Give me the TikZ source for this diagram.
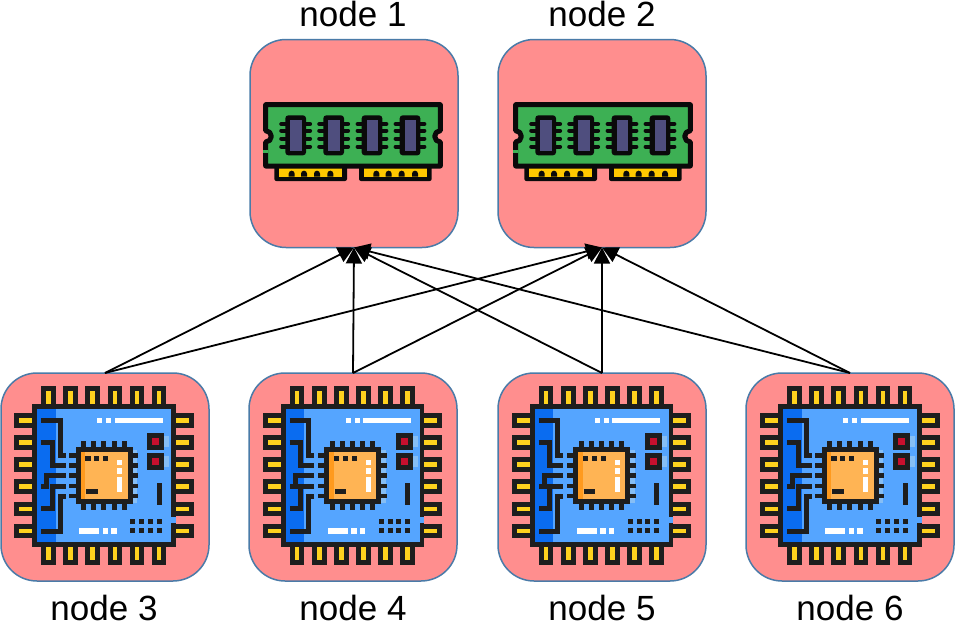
\documentclass[tikz,border=0pt]{standalone}
\usepackage{fontspec}
\setmainfont{Liberation Sans}
\usetikzlibrary{arrows.meta}
\definecolor{boxfill}{HTML}{FF8E8E}
\definecolor{boxline}{HTML}{4A7BA8}
\definecolor{ink}{HTML}{1E1E1E}
\definecolor{ramink}{HTML}{0A0A0A}
\definecolor{ramgreen}{HTML}{3DB054}
\definecolor{ramchip}{HTML}{4F4E7E}
\definecolor{gold}{HTML}{FFC800}
\definecolor{pinyellow}{HTML}{FFD21E}
\definecolor{boardblue}{HTML}{55A5FF}
\definecolor{boarddark}{HTML}{0A6CF0}
\definecolor{coreorange}{HTML}{FFB454}
\definecolor{coredark}{HTML}{FF9A1E}
\definecolor{ledred}{HTML}{C8102E}
\definecolor{glowblue}{HTML}{86BEF5}
\newcommand{\bx}[5]{\fill[#1] (#2,#3) rectangle (#4,#5);}
\tikzset{
  x=1pt,y=-1pt,
  unit/.style={draw=boxline,line width=1.5pt,fill=boxfill,rounded corners=36pt,minimum width=208pt,minimum height=208pt,inner sep=0pt,outer sep=0pt},
  caption/.style={font=\fontsize{35pt}{37pt}\selectfont,anchor=base,inner sep=0pt,text=black},
  link/.style={draw=black,line width=1.8pt,-{Triangle[length=16pt,width=16pt]},shorten >=0pt},
  trace/.style={draw=ink,line width=5pt,miter limit=10},
  ramicon/.pic={
    \begin{scope}[scale=1/3]
      \foreach \ox in {73,327}{
        \fill[ramink,rounded corners=2pt] (\ox,250) rectangle (\ox+218,303);
        \fill[gold] (\ox+14,260) rectangle (\ox+204,290);
      }
      \foreach \bxx in {125,162,201,241,379,416,455,495}
        \fill[ramink] (\bxx-9,290) -- (\bxx-9,281) arc[start angle=180,end angle=360,radius=9] -- (\bxx+9,290) -- cycle;
      \draw[draw=ramink,fill=ramgreen,line width=5pt,line join=round]
        (47,74) -- (571,74) -- (571,152) arc[start angle=270,end angle=90,radius=17]
        -- (571,258) -- (47,258) -- (47,186) arc[start angle=90,end angle=-90,radius=17] -- cycle;
      \bx{ramgreen}{39}{209}{55}{219}
      \foreach \ox in {106,220,335,449}{
        \foreach \py in {132,152,176,200}{
          \draw[ramink,line width=4.2pt,line cap=round] (\ox-12,\py) -- (\ox+74,\py);
        }
        \fill[ramink,rounded corners=3pt] (\ox,106) rectangle (\ox+62,226);
        \fill[ramchip] (\ox+15,120) rectangle (\ox+49,212);
      }
    \end{scope}
  },
  chipicon/.pic={
    \begin{scope}[scale=1/3]
      \foreach \p in {123,190,256,323,389,455}{
        \bx{ink}{\p}{48}{\p+44}{102}
        \bx{pinyellow}{\p+15}{63}{\p+29}{102}
        \bx{ink}{\p}{531}{\p+44}{585}
        \bx{pinyellow}{\p+15}{531}{\p+29}{570}
      }
      \foreach \p in {130,196,262,328,395,461}{
        \bx{ink}{42}{\p}{96}{\p+44}
        \bx{pinyellow}{57}{\p+15}{96}{\p+29}
        \bx{ink}{527}{\p}{581}{\p+44}
        \bx{pinyellow}{527}{\p+15}{566}{\p+29}
      }
      \bx{ink}{96}{102}{527}{531}
      \bx{boardblue}{111}{117}{513}{517}
      \bx{boarddark}{111}{117}{167}{517}
      \bx{boardblue}{513}{442}{527}{460}
      \foreach \p in {291,318}{\bx{white}{\p}{144}{\p+16}{159}}
      \bx{white}{344}{144}{488}{159}
      \bx{white}{238}{475}{297}{491}
      \foreach \p in {308,334}{\bx{white}{\p}{475}{\p+16}{491}}
      \foreach \p in {189,249}{
        \bx{glowblue}{493}{\p+8}{507}{\p+43}
        \bx{ink}{442}{\p}{493}{\p+50}
        \bx{ledred}{456}{\p+14}{478}{\p+36}
      }
      \bx{ink}{470}{340}{485}{406}
      \foreach \p in {391,417,443,470}{
        \bx{ink}{\p}{448}{\p+15}{463}
        \bx{ink}{\p}{475}{\p+15}{490}
      }
      \draw[trace] (123,151) -- (181,151) -- (181,256) -- (197,256);
      \draw[trace] (123,217) -- (157,217) -- (157,287) -- (197,287);
      \draw[trace] (197,317) -- (140,317) -- (140,350) -- (123,350);
      \draw[trace] (197,348) -- (157,348) -- (157,416) -- (123,416);
      \draw[trace] (197,378) -- (181,378) -- (181,483) -- (123,483);
      \bx{glowblue}{398}{240}{412}{400}
      \foreach \p in {243,273,304,335,365}{
        \bx{ink}{\p}{213}{\p+15}{232}
        \bx{ink}{\p}{402}{\p+15}{420}
      }
      \foreach \p in {249,279,310,341,371}{
        \bx{ink}{207}{\p}{227}{\p+14}
        \bx{ink}{398}{\p}{415}{\p+14}
      }
      \bx{ink}{227}{232}{398}{402}
      \bx{coreorange}{242}{247}{383}{387}
      \bx{coredark}{242}{247}{255}{387}
      \foreach \p in {256,282,309}{\bx{ink}{\p}{259}{\p+16}{274}}
      \bx{white}{351}{269}{367}{285}
      \bx{white}{351}{295}{367}{311}
      \bx{white}{351}{322}{367}{365}
      \bx{ink}{258}{358}{293}{373}
    \end{scope}
  }
}
\begin{document}
\begin{tikzpicture}
\useasboundingbox (0,0) rectangle (955,624);
\fill[white] (0,0) rectangle (955,624);
\node[unit] (n1) at (354,143.5) {};
\node[unit] (n2) at (602,143.5) {};
\node[unit] (n3) at (105,477) {};
\node[unit] (n4) at (353,477) {};
\node[unit] (n5) at (602,477) {};
\node[unit] (n6) at (850,477) {};
\pic at (250,80) {ramicon};
\pic at (500,80) {ramicon};
\pic at (0,370) {chipicon};
\pic at (248.5,370) {chipicon};
\pic at (497.5,370) {chipicon};
\pic at (746,370) {chipicon};
\foreach \s/\t in {n3/n1,n3/n2,n4/n1,n4/n2,n5/n1,n5/n2,n6/n1,n6/n2}
  \draw[link] (\s.north) -- (\t.south);
\node[caption] (l1) at (353,26) {node 1};
\node[caption] (l2) at (602,26) {node 2};
\node[caption] (l3) at (104,620.5) {node 3};
\node[caption] (l4) at (353,620.5) {node 4};
\node[caption] (l5) at (602,620.5) {node 5};
\node[caption] (l6) at (850,620.5) {node 6};
\end{tikzpicture}
\end{document}
